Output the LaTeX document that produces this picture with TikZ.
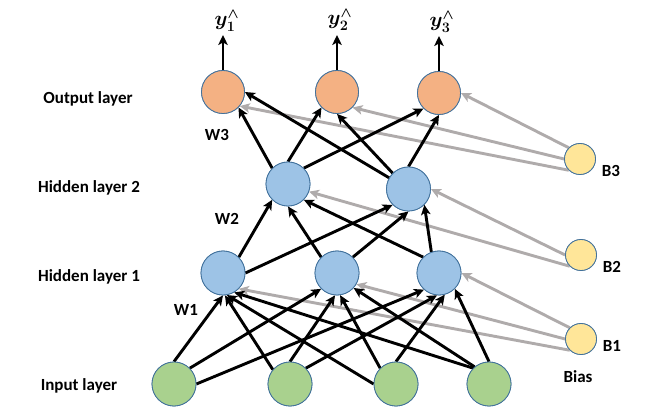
\documentclass[tikz,border=0pt]{standalone}
\usepackage{fontspec}
\setmainfont{Carlito}
\usetikzlibrary{arrows.meta}
\definecolor{outc}{HTML}{F4B183}
\definecolor{hidc}{HTML}{9DC3E6}
\definecolor{inc}{HTML}{A9D18E}
\definecolor{biasc}{HTML}{FFE699}
\definecolor{bord}{HTML}{41719C}
\definecolor{grayc}{HTML}{AFABAB}
\begin{document}
\begin{tikzpicture}[x=1pt,y=-1pt,
  neuron/.style={circle, draw=bord, line width=0.8pt, minimum size=44pt, inner sep=0pt},
  outn/.style={neuron, fill=outc, minimum size=43pt},
  hidn/.style={neuron, fill=hidc},
  inn/.style={neuron, fill=inc},
  biasn/.style={neuron, fill=biasc, minimum size=31pt},
  wt/.style={line width=2.9pt, black, -{Stealth[length=10pt,width=9.5pt,inset=2.5pt]}},
  bw/.style={line width=2.9pt, grayc, -{Stealth[length=10pt,width=9.5pt,inset=2.5pt]}},
  lbl/.style={font=\fontsize{17}{20}\selectfont\bfseries, anchor=base, inner sep=0pt},
  ylbl/.style={font=\fontsize{21}{24}\selectfont\boldmath, inner sep=0pt}]
\useasboundingbox (0,0) rectangle (669,419);
% nodes
\node[outn] (O1) at (223,92) {};
\node[outn] (O2) at (337,92) {};
\node[outn] (O3) at (439,93) {};
\node[hidn] (H2a) at (288,184) {};
\node[hidn] (H2b) at (408.5,189) {};
\node[hidn] (H1a) at (223,273) {};
\node[hidn] (H1b) at (337,273) {};
\node[hidn] (H1c) at (439,273) {};
\node[inn] (I1) at (174,384) {};
\node[inn] (I2) at (290,384) {};
\node[inn] (I3) at (396,384) {};
\node[inn] (I4) at (489,384) {};
\node[biasn] (B3) at (580,159) {};
\node[biasn] (B2) at (581,255) {};
\node[biasn] (B1) at (581,339) {};
% output labels
\coordinate (Y1) at (223,35);
\coordinate (Y2) at (337,35);
\coordinate (Y3) at (439,36);
\node[ylbl] (t1) at (227,21) {$y_{1}^{\wedge}$};
\node[ylbl] (t2) at (340,20) {$y_{2}^{\wedge}$};
\node[ylbl] (t3) at (442,22) {$y_{3}^{\wedge}$};
% bias connectors (behind)
\draw[bw] (B3.135) -- (O3.0);
\draw[bw] (B3.180) -- (O2.315);
\draw[bw] (B3.225) -- (O1.320);
\draw[bw] (B2.180) -- (H2b.0);
\draw[bw] (B2.225) -- (H2a.340);
\draw[bw] (B1.135) -- (H1c.0);
\draw[bw] (B1.180) -- (H1b.330);
\draw[bw] (B1.225) -- (H1a.315);
% input -> hidden 1
\draw[wt] (I1.90) -- (H1a.270);
\draw[wt] (I1.45) -- (H1b.225);
\draw[wt] (I1.0) -- (H1c.228);
\draw[wt] (I2.140) -- (H1a.275);
\draw[wt] (I2.90) -- (H1b.265);
\draw[wt] (I2.45) -- (H1c.265);
\draw[wt] (I3.180) -- (H1a.280);
\draw[wt] (I3.135) -- (H1b.278);
\draw[wt] (I3.90) -- (H1c.285);
\draw[wt] (I4.135) -- (H1a.300);
\draw[wt] (I4.130) -- (H1b.318);
\draw[wt] (I4.90) -- (H1c.315);
% hidden 1 -> hidden 2
\draw[wt] (H1a.45) -- (H2a.225);
\draw[wt] (H1a.0) -- (H2b.225);
\draw[wt] (H1b.135) -- (H2a.270);
\draw[wt] (H1b.45) -- (H2b.270);
\draw[wt] (H1c.135) -- (H2a.315);
\draw[wt] (H1c.110) -- (H2b.315);
% hidden 2 -> output
\draw[wt] (H2a.135) -- (O1.315);
\draw[wt] (H2a.90) -- (O2.225);
\draw[wt] (H2a.45) -- (O3.225);
\draw[wt] (H2b.150) -- (O1.0);
\draw[wt] (H2b.135) -- (O2.270);
\draw[wt] (H2b.90) -- (O3.270);
% output arrows
\draw[wt] (O1.90) -- (Y1);
\draw[wt] (O2.90) -- (Y2);
\draw[wt] (O3.90) -- (Y3);
% redraw nodes on top
\foreach \n in {O1,O2,O3} {\node[outn] at (\n) {};}
\foreach \n in {H2a,H2b,H1a,H1b,H1c} {\node[hidn] at (\n) {};}
\foreach \n in {I1,I2,I3,I4} {\node[inn] at (\n) {};}
\foreach \n in {B1,B2,B3} {\node[biasn] at (\n) {};}
% labels
\node[lbl] (lo) at (88,104) {Output layer};
\node[lbl] (lh2) at (89,193) {Hidden layer 2};
\node[lbl] (lh1) at (89,282) {Hidden layer 1};
\node[lbl] (li) at (79,390) {Input layer};
\node[lbl] (w3) at (217,141) {W3};
\node[lbl] (w2) at (227,225) {W2};
\node[lbl] (w1) at (186,316) {W1};
\node[lbl] (b3) at (611,177) {B3};
\node[lbl] (b2) at (612,273) {B2};
\node[lbl] (b1) at (612,352) {B1};
\node[lbl] (bias) at (578,382) {Bias};
\end{tikzpicture}
\end{document}
